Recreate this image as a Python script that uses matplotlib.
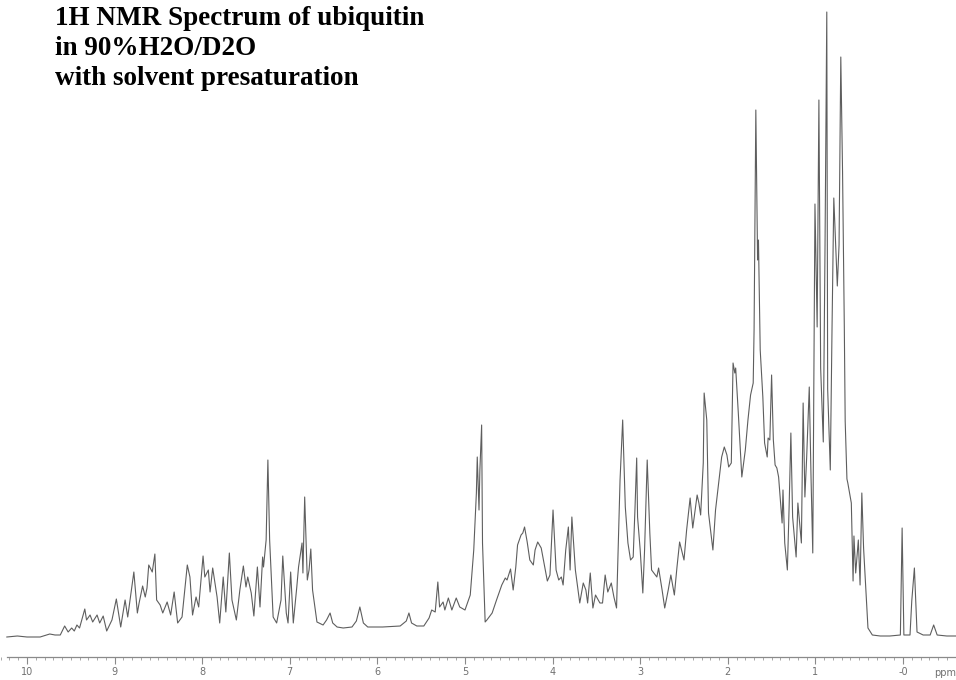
import matplotlib
matplotlib.use("Agg")
import matplotlib.pyplot as plt
from matplotlib.ticker import MultipleLocator

# (ppm, intensity) points, arbitrary units
amide = [(10.23, -1), (10.11, 0), (10.00, -1), (9.85, -1), (9.74, 2), (9.68, 1),
         (9.62, 1), (9.57, 10), (9.53, 4), (9.49, 8), (9.46, 5), (9.43, 11),
         (9.40, 8), (9.34, 27), (9.32, 16), (9.28, 21), (9.25, 14), (9.20, 21),
         (9.17, 13), (9.13, 20), (9.09, 5), (9.03, 16), (8.98, 37), (8.93, 9),
         (8.88, 36), (8.85, 19), (8.78, 64), (8.74, 23), (8.72, 33), (8.68, 50),
         (8.65, 39), (8.63, 48), (8.61, 71), (8.57, 64), (8.54, 82), (8.52, 36),
         (8.48, 31)]

aromatic = [(8.45, 23), (8.40, 34), (8.36, 21), (8.32, 44), (8.28, 13), (8.23, 19),
            (8.17, 71), (8.14, 59), (8.11, 21), (8.07, 39), (8.04, 29), (7.99, 80),
            (7.97, 59), (7.93, 66), (7.91, 44), (7.88, 68), (7.83, 39), (7.80, 13),
            (7.76, 59), (7.73, 24), (7.69, 83), (7.66, 36), (7.61, 16), (7.57, 46),
            (7.53, 70), (7.50, 49), (7.48, 59), (7.44, 43), (7.41, 20), (7.37, 69),
            (7.34, 29), (7.31, 79), (7.30, 69), (7.27, 96), (7.25, 176), (7.23, 96),
            (7.19, 19), (7.15, 13), (7.10, 36), (7.08, 80), (7.04, 23), (7.02, 13),
            (6.99, 64), (6.96, 13), (6.92, 49), (6.90, 69), (6.86, 93), (6.85, 63),
            (6.83, 139), (6.80, 56), (6.78, 66), (6.76, 87), (6.74, 46), (6.69, 14),
            (6.62, 11), (6.58, 16), (6.54, 23), (6.51, 13), (6.46, 9), (6.39, 8)]

alpha = [(6.29, 9), (6.24, 15), (6.20, 29), (6.16, 13), (6.11, 9), (5.94, 9),
         (5.74, 10), (5.67, 15), (5.64, 23), (5.61, 13), (5.55, 10), (5.47, 10),
         (5.41, 18), (5.38, 26), (5.34, 24), (5.31, 54), (5.29, 29), (5.25, 34),
         (5.23, 26), (5.19, 38), (5.15, 26), (5.10, 38), (5.06, 29), (5.00, 26),
         (4.94, 41), (4.90, 86), (4.87, 143), (4.86, 179), (4.84, 126), (4.83, 166),
         (4.81, 211), (4.80, 93), (4.77, 14), (4.75, 16), (4.69, 23), (4.64, 36),
         (4.58, 51), (4.54, 58), (4.52, 56), (4.48, 67), (4.45, 46), (4.42, 69),
         (4.40, 91), (4.36, 101), (4.34, 103), (4.32, 109), (4.29, 94), (4.26, 76),
         (4.22, 71), (4.20, 86), (4.17, 94), (4.13, 88), (4.10, 74), (4.06, 55),
         (4.03, 61)]

beta = [(3.995, 126), (3.96, 66), (3.93, 56), (3.90, 59), (3.88, 51), (3.85, 86),
        (3.82, 109), (3.80, 66), (3.78, 119), (3.74, 66), (3.72, 53), (3.69, 33),
        (3.65, 53), (3.62, 46), (3.60, 33), (3.57, 63), (3.54, 28), (3.51, 41),
        (3.46, 33), (3.43, 33), (3.40, 61), (3.37, 44), (3.33, 53), (3.30, 39),
        (3.27, 28), (3.23, 156), (3.20, 216), (3.17, 129), (3.14, 93), (3.11, 76),
        (3.08, 79), (3.06, 126), (3.04, 178), (3.03, 119), (3.00, 86), (2.97, 43),
        (2.95, 86), (2.92, 176), (2.89, 103), (2.87, 66), (2.81, 59), (2.79, 68),
        (2.75, 46), (2.72, 28), (2.68, 46), (2.65, 61), (2.61, 41), (2.58, 69),
        (2.55, 94)]

sidechain = [(2.50, 76), (2.47, 106), (2.43, 138), (2.40, 108), (2.35, 141), (2.33, 133),
             (2.31, 121), (2.28, 173), (2.27, 243), (2.24, 216), (2.22, 123), (2.17, 86),
             (2.14, 126), (2.10, 156), (2.07, 179), (2.04, 189), (2.01, 181), (1.99, 169),
             (1.96, 173), (1.94, 273), (1.92, 263), (1.91, 268), (1.88, 223), (1.84, 159),
             (1.80, 186), (1.77, 216), (1.74, 241), (1.71, 253), (1.70, 306), (1.68, 526),
             (1.66, 376), (1.65, 396), (1.63, 286), (1.60, 239), (1.58, 193), (1.55, 179),
             (1.54, 198), (1.52, 196), (1.50, 261), (1.48, 196), (1.46, 171), (1.44, 168),
             (1.42, 159), (1.38, 113), (1.37, 146), (1.35, 93), (1.32, 66), (1.30, 129),
             (1.28, 203), (1.26, 119), (1.22, 79), (1.20, 133), (1.16, 93), (1.14, 233),
             (1.12, 139), (1.10, 178), (1.07, 249), (1.05, 159), (1.03, 83)]

methyl = [(1.005, 432), (0.98, 309), (0.96, 536), (0.94, 268), (0.91, 194), (0.89, 391),
          (0.87, 624), (0.86, 247), (0.83, 166), (0.81, 309), (0.79, 438), (0.75, 350),
          (0.73, 391), (0.71, 579), (0.69, 464), (0.67, 309), (0.66, 215), (0.64, 157),
          (0.63, 153), (0.59, 133), (0.57, 55), (0.56, 100), (0.54, 63), (0.51, 96),
          (0.49, 51), (0.47, 143), (0.45, 88), (0.41, 23), (0.40, 8), (0.35, 1),
          (0.26, 0), (0.15, 0), (0.03, 1), (0.01, 108), (-0.01, 1), (-0.08, 1),
          (-0.10, 35), (-0.13, 68), (-0.16, 4), (-0.23, 1), (-0.31, 1), (-0.35, 11),
          (-0.39, 1), (-0.50, 0), (-0.61, 0)]

tick_ppm = [10, 9, 8, 7, 6, 5, 4, 3, 2, 1, 0]
tick_labels = ["10", "9", "8", "7", "6", "5", "4", "3", "2", "1", "-0"]
title_lines = ["1H NMR Spectrum of ubiquitin",
               "in 90%H2O/D2O",
               "with solvent presaturation"]

points = amide + aromatic + alpha + beta + sidechain + methyl
ppm = [p[0] for p in points]
intensity = [p[1] for p in points]

fig = plt.figure(figsize=(9.56, 6.8), dpi=100)
fig.patch.set_facecolor("white")
ax = fig.add_axes([0, 0, 1, 1])
ax.set_facecolor("white")

ax.plot(ppm, intensity, color="#5e5e5e", lw=0.8)

# ppm axis runs right to left like on the plotter paper
ax.set_xlim(10.308, -0.605)
ax.set_ylim(-44, 636)

for side in ["top", "left", "right"]:
    ax.spines[side].set_visible(False)
ax.spines["bottom"].set_position(("data", -21))
ax.spines["bottom"].set_bounds(10.23, -0.605)
ax.spines["bottom"].set_color("#8a8a8a")
ax.spines["bottom"].set_linewidth(0.9)

ax.set_xticks(tick_ppm)
ax.set_xticklabels(tick_labels)
ax.xaxis.set_minor_locator(MultipleLocator(0.1))
ax.tick_params(axis="x", which="major", direction="out", length=5, width=0.8,
               color="#8a8a8a", labelsize=7, labelcolor="#707070", pad=2.5)
ax.tick_params(axis="x", which="minor", direction="out", length=2.5, width=0.6,
               color="#9a9a9a")
ax.set_yticks([])

ax.text(-0.48, -32, "ppm", fontsize=7, color="#707070", ha="center", va="top")

baselines = [25, 55, 85]
for line, base in zip(title_lines, baselines):
    fig.text(55 / 956, 1 - base / 680, line, fontsize=19.5,
             fontweight="bold", family="Liberation Serif", color="black",
             ha="left", va="baseline")

fig.savefig("out.png", dpi=100, facecolor="white")
